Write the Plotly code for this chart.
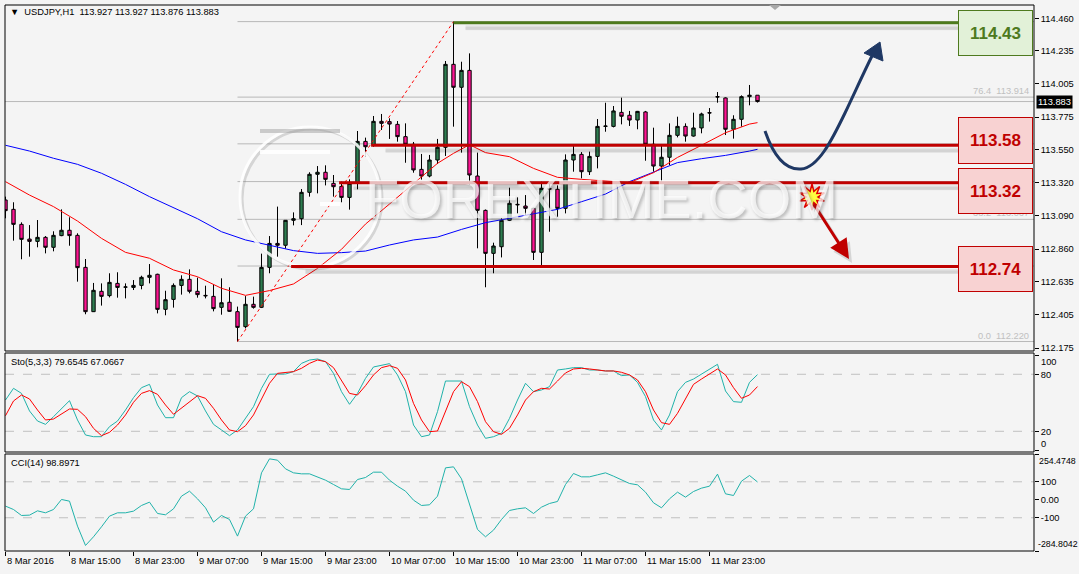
import math
import plotly.graph_objects as go

# ---------------- data ----------------
symbol_header = "USDJPY,H1  113.927 113.927 113.876 113.883"
sto_header = "Sto(5,3,3) 79.6545 67.0667"
cci_header = "CCI(14) 98.8971"
bars = list(range(95))
opens = [113.201,113.136,113.032,112.930,112.914,112.942,112.873,112.954,112.991,112.956,
         112.734,112.427,112.568,112.538,112.623,112.597,112.595,112.609,112.665,112.686,
         112.443,112.512,112.609,112.651,112.568,112.540,112.533,112.457,112.492,112.427,
         112.323,112.478,112.457,112.734,112.900,112.887,113.060,113.071,113.254,113.379,
         113.393,113.316,113.295,113.219,113.316,113.607,113.584,113.746,113.744,113.725,
         113.640,113.587,113.413,113.367,113.478,113.566,114.141,113.982,114.099,113.367,
         113.129,112.831,112.877,113.060,113.171,113.159,113.143,112.838,113.280,113.275,
         113.143,113.478,113.517,113.397,113.503,113.711,113.711,113.808,113.788,113.755,
         113.811,113.587,113.436,113.497,113.649,113.711,113.644,113.700,113.806,113.917,
         113.908,113.691,113.760,113.917,113.927]
highs = [113.224,113.185,113.046,113.027,113.062,112.951,112.984,113.136,113.081,112.970,
         112.792,112.626,112.623,112.693,112.700,112.623,112.646,112.676,112.757,112.690,
         112.572,112.623,112.679,112.720,112.663,112.607,112.616,112.658,112.596,112.462,
         112.535,112.531,112.829,112.951,113.155,113.062,113.115,113.277,113.393,113.436,
         113.441,113.374,113.328,113.344,113.679,113.633,113.783,113.797,113.767,113.748,
         113.732,113.603,113.520,113.513,113.624,114.164,114.437,114.159,114.217,113.529,
         113.135,112.905,113.074,113.286,113.219,113.235,113.147,113.328,113.316,113.302,
         113.517,113.575,113.533,113.536,113.762,113.875,113.852,113.910,113.818,113.818,
         113.818,113.702,113.575,113.732,113.778,113.732,113.806,113.806,113.838,113.949,
         113.912,113.788,113.926,113.998,113.927]
lows = [113.074,112.919,112.790,112.808,112.873,112.831,112.845,112.950,112.884,112.635,
        112.409,112.425,112.469,112.526,112.524,112.519,112.577,112.582,112.623,112.415,
        112.402,112.455,112.545,112.554,112.524,112.519,112.429,112.406,112.425,112.220,
        112.311,112.448,112.452,112.693,112.808,112.864,113.025,113.027,113.224,113.247,
        113.302,113.224,113.185,113.134,113.275,113.501,113.570,113.686,113.624,113.605,
        113.459,113.390,113.339,113.358,113.450,113.506,113.709,113.529,113.305,112.866,
        112.596,112.693,112.803,113.055,113.108,113.097,112.785,112.743,112.981,113.085,
        113.108,113.397,113.351,113.374,113.420,113.674,113.704,113.725,113.714,113.691,
        113.473,113.397,113.328,113.443,113.635,113.605,113.640,113.663,113.744,113.875,
        113.651,113.626,113.709,113.857,113.876]
closes = [113.127,113.032,112.928,112.914,112.942,112.873,112.956,112.991,112.954,112.732,
          112.427,112.575,112.533,112.630,112.595,112.598,112.609,112.665,112.679,112.443,
          112.510,112.609,112.651,112.568,112.545,112.537,112.448,112.489,112.429,112.318,
          112.478,112.457,112.734,112.900,112.887,113.060,113.071,113.254,113.379,113.393,
          113.344,113.293,113.219,113.316,113.607,113.570,113.746,113.732,113.727,113.640,
          113.587,113.409,113.367,113.478,113.566,114.141,113.982,114.099,113.374,113.129,
          112.831,112.882,113.060,113.178,113.168,113.143,112.838,113.282,113.276,113.143,
          113.478,113.517,113.397,113.503,113.711,113.713,113.818,113.781,113.755,113.815,
          113.587,113.436,113.497,113.649,113.711,113.644,113.700,113.797,113.804,113.915,
          113.691,113.760,113.917,113.927,113.883]

ma_red_bars = [0,3,6,9,12,15,18,21,24,27,30,33,36,39,42,45,48,51,54,56,58,60,63,66,69,72,75,78,81,84,87,90,93,94]
ma_red = [113.328,113.235,113.155,113.055,112.935,112.838,112.797,112.716,112.669,112.589,
          112.540,112.573,112.619,112.727,112.859,113.034,113.173,113.316,113.455,113.524,
          113.584,113.529,113.501,113.420,113.358,113.344,113.335,113.321,113.390,113.496,
          113.580,113.667,113.727,113.737]
ma_blue_bars = [0,3,6,9,12,15,18,21,24,27,30,33,36,39,42,45,48,51,54,57,60,63,66,69,72,75,78,81,84,87,90,93,94]
ma_blue = [113.580,113.540,113.490,113.448,113.386,113.309,113.224,113.150,113.071,112.981,
           112.924,112.887,112.850,112.831,112.836,112.847,112.889,112.924,112.944,112.997,
           113.044,113.074,113.104,113.136,113.189,113.242,113.328,113.395,113.460,113.487,
           113.510,113.540,113.552]

stoch_k = [52.9,65.2,59.9,41.4,30.8,27.3,35.4,44.2,52.2,31.9,16.1,14.3,14.3,24.9,30.8,42.4,55.4,65.9,69.4,47.7,
           34.3,34.3,55.4,61.7,57.2,41.4,27.3,21.4,15.4,21.4,34.3,45.9,65.2,80.0,80.3,80.3,82.8,91.5,95.0,96.1,
           93.3,81.0,61.7,48.4,59.9,75.7,87.7,89.8,91.2,79.3,61.7,26.6,14.3,16.1,40.7,72.9,72.9,72.9,45.9,26.6,
           12.6,14.3,17.8,33.6,52.9,70.5,61.7,63.5,67.0,84.5,85.6,87.0,87.0,84.5,84.5,83.5,83.5,78.6,79.3,71.5,
           56.5,31.9,21.4,37.2,61.7,71.5,75.0,80.0,85.6,90.5,62.4,51.2,50.5,71.5,79.6545]
stoch_d = [36.4,51.9,58.2,54.0,42.4,31.9,32.9,38.5,43.5,43.1,35.4,23.1,15.4,18.9,26.6,37.2,50.5,59.9,62.8,58.9,
           47.7,37.9,44.2,51.2,57.5,54.7,44.2,31.9,21.4,19.6,25.9,37.2,54.0,70.5,81.0,82.1,82.8,86.3,91.5,95.0,
           93.3,87.0,72.9,59.9,58.2,68.0,79.3,87.0,89.1,86.3,74.0,49.4,31.9,19.6,20.3,40.7,61.7,72.2,67.0,51.2,
           30.1,19.6,16.8,23.1,37.2,52.9,61.7,65.2,64.5,72.9,81.4,85.6,86.3,85.6,84.5,83.5,83.5,82.1,79.3,74.0,
           61.7,42.4,29.1,27.3,38.9,54.0,69.4,75.0,80.0,85.6,79.3,65.9,54.7,58.2,67.0667]
cci = [-35.4,-54.0,-87.3,-85.4,-61.4,-72.5,-54.0,1.6,-7.7,-146.6,-254.0,-205.8,-150.3,-91.0,-72.5,-72.5,-63.2,-31.7,-13.2,-76.2,
       -83.6,-50.3,20.1,47.9,5.3,-44.7,-124.3,-87.3,-109.5,-202.1,-91.0,-50.3,149.8,227.5,220.1,172.0,149.8,144.2,144.2,127.5,
       109.0,84.9,60.9,57.2,112.7,123.8,153.5,153.5,109.0,75.7,47.9,-2.1,-31.7,-28.0,20.1,177.5,183.1,116.4,-26.2,-165.1,
       -205.8,-168.8,-109.5,-59.5,-50.3,-44.7,-76.2,-41.0,-20.6,-9.5,84.9,146.1,127.5,127.5,138.6,149.8,131.2,112.7,90.5,83.1,
       42.3,-16.9,-44.7,5.3,42.3,14.6,46.0,64.6,75.7,142.4,33.1,23.8,103.5,135.0,98.8971]

price_ticks = [114.460,114.235,114.005,113.775,113.550,113.320,113.090,112.860,112.635,112.405,112.175]
price_tick_text = ["114.460","114.235","114.005","113.775","113.550","113.320","113.090","112.860","112.635","112.405","112.175"]
time_label_bars = [0,8,16,24,32,40,48,56,64,72,80,88]
time_labels = ["8 Mar 2016","8 Mar 15:00","8 Mar 23:00","9 Mar 07:00","9 Mar 15:00","9 Mar 23:00",
               "10 Mar 07:00","10 Mar 15:00","10 Mar 23:00","11 Mar 07:00","11 Mar 15:00","11 Mar 23:00"]
levels = [114.43, 113.58, 113.32, 112.74]
level_text = ["114.43", "113.58", "113.32", "112.74"]
level_start_bar = [56, 46, 42, 36]
fib_low, fib_high = 112.220, 114.437
fib_low_bar, fib_high_bar = 29, 56
fib_levels = [0.0, 23.6, 38.2, 50.0, 61.8, 76.4, 100.0]
fib_labelled = [0.0, 38.2, 76.4]
bid = 113.883
stoch_levels = [80, 20]
cci_levels = [100, -100]
watermark = "FOREXTIME.COM"

# ---------------- geometry helpers (pixel layout of the 1079x574 picture) ----------------
W, H = 1079, 574
PL, PR, PT, PB = 5, 1034, 5, 551


def bx(px):
    return (px - 5.5) / 8.0


def pyp(py):
    return 114.46 - (py - 18.3) / 144.3


def ppx(px):
    return (px - PL) / (PR - PL)


def ppy(py):
    return (PB - py) / (PB - PT)


FONT = "Liberation Sans, Arial, sans-serif"
BG = "#f4f4f4"
RED = "#c00000"
GREEN = "#4e7a1e"
TEAL = "#20b2aa"

fig = go.Figure()

fig.add_trace(go.Candlestick(
    x=bars, open=opens, high=highs, low=lows, close=closes,
    increasing=dict(line=dict(color="black", width=1), fillcolor="#2e7d50"),
    decreasing=dict(line=dict(color="black", width=1), fillcolor="#ff1493"),
    whiskerwidth=0, xaxis="x", yaxis="y", hoverinfo="skip"))
fig.add_trace(go.Scatter(x=ma_blue_bars, y=ma_blue, mode="lines", line=dict(color="#0000ff", width=1),
                         xaxis="x", yaxis="y", hoverinfo="skip"))
fig.add_trace(go.Scatter(x=ma_red_bars, y=ma_red, mode="lines", line=dict(color="#ff0000", width=1),
                         xaxis="x", yaxis="y", hoverinfo="skip"))
fig.add_trace(go.Scatter(x=bars, y=stoch_k, mode="lines", line=dict(color=TEAL, width=1),
                         xaxis="x", yaxis="y2", hoverinfo="skip"))
fig.add_trace(go.Scatter(x=bars, y=stoch_d, mode="lines", line=dict(color="#ff0000", width=1),
                         xaxis="x", yaxis="y2", hoverinfo="skip"))
fig.add_trace(go.Scatter(x=bars, y=cci, mode="lines", line=dict(color=TEAL, width=1),
                         xaxis="x", yaxis="y3", hoverinfo="skip"))

xmin, xmax = bx(PL), bx(PR)
shapes = []
annotations = []

# panel borders
dom_main = [ppy(351), 1.0]
dom_sto = [ppy(452), ppy(353)]
dom_cci = [0.0, ppy(454)]
for yr in ["y domain", "y2 domain", "y3 domain"]:
    shapes.append(dict(type="rect", xref="paper", yref=yr, x0=0, x1=1, y0=0, y1=1,
                       line=dict(color="black", width=1), layer="above"))

# indicator levels
for lv in stoch_levels:
    shapes.append(dict(type="line", xref="paper", yref="y2", x0=0, x1=1, y0=lv, y1=lv,
                       line=dict(color="#c0c0c0", width=1, dash="dash"), layer="below"))
for lv in cci_levels:
    shapes.append(dict(type="line", xref="paper", yref="y3", x0=0, x1=1, y0=lv, y1=lv,
                       line=dict(color="#c0c0c0", width=1, dash="dash"), layer="below"))

# fibonacci levels
for f in fib_levels:
    p = fib_low + (fib_high - fib_low) * f / 100.0
    shapes.append(dict(type="line", xref="x", yref="y", x0=fib_low_bar, x1=xmax, y0=p, y1=p,
                       line=dict(color="#b8b8b8", width=1), layer="below"))
# bid line
shapes.append(dict(type="line", xref="x", yref="y", x0=xmin, x1=xmax, y0=bid, y1=bid,
                   line=dict(color="#b8b8b8", width=1), layer="below"))
# fib diagonal
shapes.append(dict(type="line", xref="x", yref="y", x0=fib_low_bar, x1=fib_high_bar, y0=fib_low, y1=fib_high,
                   line=dict(color="#ff0000", width=1, dash="dot"), layer="above"))

# watermark circle logo
cx, cy, r = 310, 197, 70
shapes.append(dict(type="circle", xref="x", yref="y", x0=bx(cx - r + 2), x1=bx(cx + r + 2),
                   y0=pyp(cy + r + 2), y1=pyp(cy - r + 2), line=dict(color="rgba(120,120,120,0.25)", width=3), layer="above"))
shapes.append(dict(type="circle", xref="x", yref="y", x0=bx(cx - r), x1=bx(cx + r),
                   y0=pyp(cy + r), y1=pyp(cy - r), line=dict(color="rgba(255,255,255,0.85)", width=3), layer="above"))
for (x0, x1, yy, col) in [(260, 340, 131, "rgba(150,150,150,0.45)"), (260, 330, 152, "rgba(255,255,255,0.9)"),
                          (320, 340, 204, "rgba(255,255,255,0.9)")]:
    shapes.append(dict(type="line", xref="x", yref="y", x0=bx(x0), x1=bx(x1), y0=pyp(yy), y1=pyp(yy),
                       line=dict(color=col, width=4), layer="above"))

# support / resistance lines with soft shadows
box_x0, box_x1 = 958, 1033
for lv, sb, col in zip(levels, level_start_bar, [GREEN, RED, RED, RED]):
    for off, wd, al in [(5.0, 5, 0.06), (5.5, 3, 0.08)]:
        shapes.append(dict(type="line", xref="x", yref="y", x0=sb + 1.5, x1=bx(box_x0 + 4),
                           y0=lv - off / 144.3, y1=lv - off / 144.3,
                           line=dict(color=f"rgba(0,0,0,{al})", width=wd), layer="above"))
    shapes.append(dict(type="line", xref="x", yref="y", x0=sb - 0.3 if col == RED else sb, x1=bx(box_x0), y0=lv, y1=lv,
                       line=dict(color=col, width=3), layer="above"))

# blue curved arrow
def P(px, py):
    return f"{bx(px)},{pyp(py)}"

curve = (f"M {P(765,131)} C {P(775,160)} {P(788,170)} {P(801,169)} "
         f"C {P(818,168)} {P(832,140)} {P(845,113)} C {P(855,92)} {P(864,72)} {P(872,56)}")
shapes.append(dict(type="path", xref="x", yref="y", path=curve, line=dict(color="#1f3864", width=3), layer="above"))
head = f"M {P(864,53)} L {P(880,42)} L {P(883,61)} Z"
shapes.append(dict(type="path", xref="x", yref="y", path=head, fillcolor="#1f3864",
                   line=dict(color="#1f3864", width=1), layer="above"))

# explosion star
sx, sy = 812, 197
pts = []
for k in range(20):
    ang = -math.pi / 2 + k * math.pi / 10
    rad = 13 if k % 2 == 0 else 6
    pts.append(P(sx + rad * math.cos(ang), sy + rad * math.sin(ang)))
star = "M " + " L ".join(pts) + " Z"
shapes.append(dict(type="path", xref="x", yref="y", path=star, fillcolor="#ffff40",
                   line=dict(color="#e00000", width=1.5), layer="above"))

# chart-shift marker
shapes.append(dict(type="path", xref="x", yref="y", path=f"M {P(769,5)} L {P(781,5)} L {P(775,10)} Z",
                   fillcolor="#a8a8a8", line=dict(width=0), layer="above"))

# red arrow (shadow + arrow)
annotations.append(dict(x=bx(852), y=pyp(263), ax=bx(816), ay=pyp(206), xref="x", yref="y", axref="x", ayref="y",
                        text="", showarrow=True, arrowhead=2, arrowsize=1.3, arrowwidth=3,
                        arrowcolor="rgba(0,0,0,0.12)"))
annotations.append(dict(x=bx(849), y=pyp(259), ax=bx(813), ay=pyp(203), xref="x", yref="y", axref="x", ayref="y",
                        text="", showarrow=True, arrowhead=2, arrowsize=1.3, arrowwidth=3, arrowcolor=RED))

# watermark text
annotations.append(dict(x=ppx(601), y=ppy(199), xref="paper", yref="paper", text=watermark,
                        showarrow=False,
                        font=dict(family="Liberation Sans Narrow, Liberation Sans, sans-serif", size=56,
                                  color="rgba(255,255,255,0.72)",
                                  shadow="2px 2px 3px rgba(80,80,80,0.45)")))

# fib labels that are visible (the others sit under the level boxes)
for f in fib_labelled:
    p = fib_low + (fib_high - fib_low) * f / 100.0
    annotations.append(dict(x=bx(1031), y=p, xref="x", yref="y", text=f"{f:.1f}  {p:.3f}", showarrow=False,
                            xanchor="right", yanchor="bottom", yshift=-1,
                            font=dict(family=FONT, size=9.3, color="#c0c0c0")))

# level boxes
box_tb = [(10, 56), (117, 164), (168, 214), (246, 292)]
for (t, b), txt, col in zip(box_tb, level_text, [GREEN, RED, RED, RED]):
    fill = "#e2f1d8" if col == GREEN else "#f8d2d2"
    annotations.append(dict(x=bx((box_x0 + box_x1) / 2), y=pyp((t + b) / 2), xref="x", yref="y",
                            text=f"<b>{txt}</b>", showarrow=False, width=box_x1 - box_x0 - 2, height=b - t - 2,
                            bgcolor=fill, bordercolor=col, borderwidth=1, borderpad=0,
                            font=dict(family=FONT, size=17, color=col)))

# header and sub-window titles
annotations.append(dict(x=ppx(8), y=ppy(12.5), xref="paper", yref="paper", xanchor="left", yanchor="middle",
                        text="\u25bc  " + symbol_header, showarrow=False,
                        font=dict(family=FONT, size=9.3, color="black")))
annotations.append(dict(x=ppx(9), y=ppy(361.5), xref="paper", yref="paper", xanchor="left", yanchor="middle",
                        text=sto_header, showarrow=False,
                        font=dict(family=FONT, size=9.3, color="black")))
annotations.append(dict(x=ppx(9), y=ppy(462.5), xref="paper", yref="paper", xanchor="left", yanchor="middle",
                        text=cci_header, showarrow=False,
                        font=dict(family=FONT, size=9.3, color="black")))

# current price tag
annotations.append(dict(x=1.0, y=bid, xref="paper", yref="y", xanchor="left", yanchor="middle", xshift=2,
                        text=f"{bid:.3f}", showarrow=False, bgcolor="black", borderpad=1,
                        font=dict(family=FONT, size=9.3, color="white")))

# edge labels of indicator scales (placed inside like MT4)
annotations.append(dict(x=1.0, y=100, xref="paper", yref="y2", xanchor="left", yanchor="top", xshift=5,
                        text="100", showarrow=False, font=dict(family=FONT, size=9.3, color="black")))
annotations.append(dict(x=1.0, y=0, xref="paper", yref="y2", xanchor="left", yanchor="bottom", xshift=5, yshift=-1,
                        text="0", showarrow=False, font=dict(family=FONT, size=9.3, color="black")))
annotations.append(dict(x=1.0, y=254.4748, xref="paper", yref="y3", xanchor="left", yanchor="top", xshift=3,
                        text="254.4748", showarrow=False, font=dict(family=FONT, size=8.8, color="black")))
annotations.append(dict(x=1.0, y=-284.8042, xref="paper", yref="y3", xanchor="left", yanchor="bottom", xshift=2,
                        text="-284.8042", showarrow=False, font=dict(family=FONT, size=8.8, color="black")))

# time labels
for b, lab in zip(time_label_bars, time_labels):
    annotations.append(dict(x=b, y=0, xref="x", yref="paper", xanchor="left", yanchor="top", yshift=-3, xshift=-1,
                            text=lab, showarrow=False, font=dict(family=FONT, size=9.3, color="black")))

tickfont = dict(family=FONT, size=9.3, color="black")
fig.update_layout(
    width=W, height=H, margin=dict(l=PL, r=W - PR, t=PT, b=H - PB),
    paper_bgcolor=BG, plot_bgcolor=BG, showlegend=False, hovermode=False,
    boxgap=0.4,
    xaxis=dict(domain=[0, 1], range=[xmin, xmax], anchor="y3", showgrid=False, zeroline=False,
               tickvals=time_label_bars, ticks="outside", ticklen=4, tickcolor="black",
               showticklabels=False, rangeslider=dict(visible=False), fixedrange=True),
    yaxis=dict(domain=dom_main, range=[pyp(351), pyp(5)], side="right", anchor="x", showgrid=False,
               zeroline=False, tickvals=price_ticks, ticktext=price_tick_text, ticks="outside",
               ticklen=4, tickcolor="black", tickfont=tickfont),
    yaxis2=dict(domain=dom_sto, range=[-1.8, 102.4], side="right", anchor="x", showgrid=False,
                zeroline=False, tickvals=[100, 80, 20, 0], ticktext=["", "80", "20", ""], ticks="outside",
                ticklen=4, tickcolor="black", tickfont=tickfont),
    yaxis3=dict(domain=dom_cci, range=[-284.8042, 254.4748], side="right", anchor="x", showgrid=False,
                zeroline=False, tickvals=[254.4748, 100, 0, -100, -284.8042],
                ticktext=["", "100", "0.00", "-100", ""], ticks="outside",
                ticklen=4, tickcolor="black", tickfont=tickfont),
    shapes=shapes, annotations=annotations,
)

fig.write_html("out.html")
